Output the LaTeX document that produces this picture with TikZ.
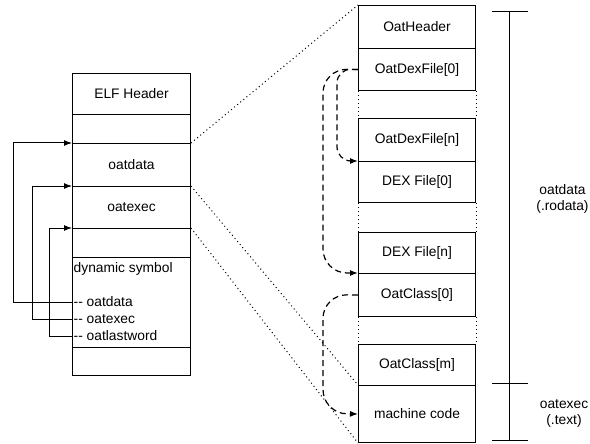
\documentclass[tikz,border=0pt]{standalone}
\usepackage{fontspec}
\setmainfont{Liberation Sans}
\usetikzlibrary{arrows.meta}
\begin{document}
\begin{tikzpicture}[x=1pt,y=-1pt,
  txt/.style={font=\fontsize{13.8}{16}\selectfont},
  cell/.style={txt, draw, line width=1pt, inner sep=0pt, anchor=north west},
  lcell/.style={cell, minimum width=118pt},
  rcell/.style={cell, minimum width=117pt},
  lbl/.style={txt, inner sep=1.5pt, anchor=west},
  arr/.style={line width=1pt, -{Latex[length=8pt,width=6pt]}},
  dot/.style={line width=1pt, dash pattern=on 1pt off 3pt},
  dsh/.style={line width=1.2pt, dash pattern=on 6pt off 4pt, -{Latex[length=8pt,width=6pt]}},
  brk/.style={line width=1pt},
]
\useasboundingbox (0,0) rectangle (590,444);

% left column
\node[lcell, minimum height=41pt] (elf) at (72,73) {ELF Header};
\node[lcell, minimum height=29pt] (l2) at (72,114) {};
\node[lcell, minimum height=43pt] (ldata) at (72,143) {oatdata};
\node[lcell, minimum height=42pt] (lexec) at (72,186) {oatexec};
\node[lcell, minimum height=29pt] (l5) at (72,228) {};
\node[lcell, minimum height=90pt] (ldyn) at (72,257) {};
\node[lcell, minimum height=28pt] (l7) at (72,347) {};

\node[lbl] (dyn) at (72,269) {dynamic symbol};
\node[lbl] (sdata) at (72,302) {-{}- oatdata};
\node[lbl] (sexec) at (72,319) {-{}- oatexec};
\node[lbl] (slast) at (72,336) {-{}- oatlastword};

\draw[arr] (sdata.west) -- (13,302) |- (ldata.north west);
\draw[arr] (sexec.west) -- (32,319) |- (lexec.north west);
\draw[arr] (slast.west) -- (49,336) |- (l5.north west);

% right column
\node[rcell, minimum height=43pt] (oh) at (358,5) {OatHeader};
\node[rcell, minimum height=42pt] (odf0) at (358,48) {OatDexFile[0]};
\node[rcell, minimum height=43pt] (odfn) at (358,118) {OatDexFile[n]};
\node[rcell, minimum height=41pt] (dex0) at (358,161) {DEX File[0]};
\node[rcell, minimum height=41pt] (dexn) at (358,232) {DEX File[n]};
\node[rcell, minimum height=43pt] (oc0) at (358,273) {OatClass[0]};
\node[rcell, minimum height=41pt] (ocm) at (358,344) {OatClass[m]};
\node[rcell, minimum height=57pt] (mc) at (358,385) {machine code};

% gaps
\draw[dot] (odf0.south west) -- (odfn.north west);
\draw[dot] (odf0.south east) -- (odfn.north east);
\draw[dot] (dex0.south west) -- (dexn.north west);
\draw[dot] (dex0.south east) -- (dexn.north east);
\draw[dot] (oc0.south west) -- (ocm.north west);
\draw[dot] (oc0.south east) -- (ocm.north east);

% cross links
\draw[dot] (ldata.north east) -- (oh.north west);
\draw[dot] (lexec.north east) -- (mc.north west);
\draw[dot] (l5.north east) -- (mc.south west);

% dashed pointers
\draw[dsh, rounded corners=14pt] (odf0.west) -- (337,69) -- (337,161) -- (dex0.north west);
\draw[dsh, rounded corners=24pt] (odf0.west) -- (323,69) -- (323,273) -- (oc0.north west);
\draw[dsh, rounded corners=24pt] (oc0.west) -- (323,294.5) -- (323,413.5) -- (mc.west);

% bracket
\coordinate (bt) at (509,12);
\coordinate (bm) at (509,383);
\coordinate (bb) at (509,440);
\draw[brk] (bt) -- (bb);
\draw[brk] ([xshift=-17pt]bt) -- ([xshift=19pt]bt);
\draw[brk] ([xshift=-17pt]bm) -- ([xshift=19pt]bm);
\draw[brk] ([xshift=-17pt]bb) -- ([xshift=19pt]bb);

\node[txt, align=center, inner sep=0pt] (rod) at (562.5,199) {oatdata\\(.rodata)};
\node[txt, align=center, inner sep=0pt] (txtl) at (564,413) {oatexec\\(.text)};
\end{tikzpicture}
\end{document}
